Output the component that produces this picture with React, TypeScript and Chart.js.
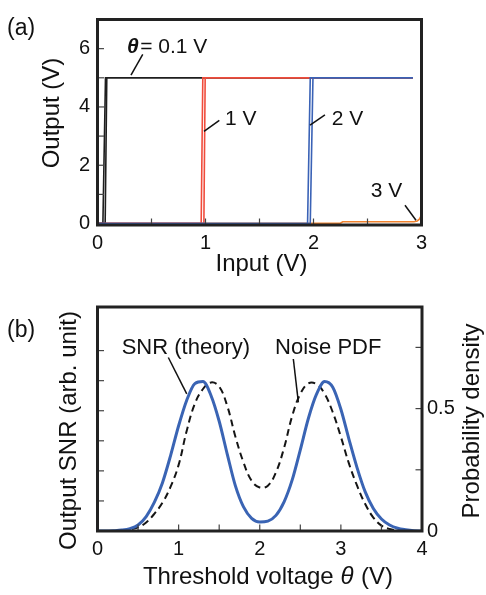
import React, { useEffect, useRef } from 'react';
import { Chart, registerables } from 'chart.js';

Chart.register(...registerables);

const FONT = '"Liberation Sans", Arial, Helvetica, sans-serif';

// ---------- Panel (a): comparator transfer curves ----------
const inputBlackA = [0, 0.05, 0.074, 2.92];
const inputBlackB = [0, 0.071, 0.086, 2.92];
const inputRedA = [0, 0.96, 0.975, 2.92];
const inputRedB = [0, 0.985, 0.997, 2.92];
const inputBlueA = [0, 1.945, 1.97, 2.92];
const inputBlueB = [0, 1.97, 1.995, 2.92];
const outputStep = [0, 0, 5, 5];
const inputOrange = [0, 2.25, 2.27, 2.93, 2.96, 2.98, 2.995];
const outputOrange = [0.01, 0.01, 0.06, 0.06, 0.09, 0.15, 0.25];

const xLabelsA = [0, 1, 2, 3];
const yLabelsA = [0, 2, 4, 6];
const xInnerTicksA = [0.5, 1, 1.5, 2, 2.5];
const yInnerTicksA = [1, 2, 3, 4, 5, 6];

// ---------- Panel (b): SNR and noise PDF vs threshold ----------
const thresholdV = [
  0, 0.1, 0.2, 0.3, 0.4, 0.5, 0.6, 0.7, 0.8, 0.9,
  1.0, 1.1, 1.2, 1.3, 1.4, 1.5, 1.6, 1.7, 1.8, 1.9,
  2.0, 2.1, 2.2, 2.3, 2.4, 2.5, 2.6, 2.7, 2.8, 2.9,
  3.0, 3.1, 3.2, 3.3, 3.4, 3.5, 3.6, 3.7, 3.8, 3.9, 4.0,
];
const snrTheory = [
  0, 0, 0.01, 0.03, 0.08, 0.2, 0.48, 0.95, 1.6, 2.5,
  3.5, 4.35, 4.9, 4.97, 4.5, 3.65, 2.55, 1.5, 0.8, 0.42,
  0.3, 0.33, 0.52, 0.97, 1.7, 2.7, 3.75, 4.55, 4.97, 4.78,
  4.05, 3.05, 2.1, 1.3, 0.75, 0.4, 0.2, 0.09, 0.04, 0.01, 0,
];
const noisePdf = [
  0, 0, 0, 0.002, 0.006, 0.015, 0.035, 0.07, 0.115, 0.18,
  0.27, 0.41, 0.52, 0.58, 0.607, 0.59, 0.51, 0.385, 0.28, 0.205,
  0.178, 0.185, 0.24, 0.34, 0.47, 0.56, 0.603, 0.6, 0.56, 0.485,
  0.385, 0.275, 0.185, 0.11, 0.055, 0.022, 0.008, 0.003, 0.001, 0, 0,
];

const xLabelsB = [0, 1, 2, 3, 4];
const yRightLabelsB = [0, 0.5];
const xInnerTicksB = [0.5, 1, 1.5, 2, 2.5, 3, 3.5];
const yLeftInnerTicksB = [1, 2, 3, 4, 5, 6];
const yRightInnerTicksB = [0.25, 0.5, 0.75];

const pts = (xs: number[], ys: number[]) => xs.map((x, i) => ({ x, y: ys[i] }));

type Part = { t: string; font: string; gap?: number };
type Note = { parts: Part[]; x: number; y: number; xAxis: string; yAxis: string };
type Leader = { x1: number; y1: number; x2: number; y2: number; xAxis: string; yAxis: string };
type Tick = { axis: string; values: number[]; side: 'bottom' | 'left' | 'right' };
type Title = { parts: Part[]; x: number; y: number; rot: number; align: 'center' | 'left' };

function drawParts(ctx: CanvasRenderingContext2D, parts: Part[], x: number, y: number, align: 'center' | 'left') {
  let total = 0;
  const widths = parts.map((p) => {
    ctx.font = p.font;
    const w = ctx.measureText(p.t).width + (p.gap || 0);
    total += w;
    return w;
  });
  let cx = align === 'center' ? x - total / 2 : x;
  ctx.textAlign = 'left';
  ctx.textBaseline = 'alphabetic';
  parts.forEach((p, i) => {
    ctx.font = p.font;
    ctx.fillText(p.t, cx, y);
    cx += widths[i];
  });
}

function framePlugin(ticks: Tick[], notes: Note[], leaders: Leader[], titles: Title[]) {
  return {
    id: 'frame',
    afterDatasetsDraw(chart: any) {
      const { ctx, chartArea: ca, scales } = chart;
      ctx.save();
      ctx.strokeStyle = '#444';
      ctx.lineWidth = 1.2;
      const len = 6.5;
      ticks.forEach((tk) => {
        const s = scales[tk.axis];
        tk.values.forEach((v) => {
          const p = s.getPixelForValue(v);
          ctx.beginPath();
          if (tk.side === 'bottom') {
            ctx.moveTo(p, ca.bottom);
            ctx.lineTo(p, ca.bottom - len);
          } else if (tk.side === 'left') {
            ctx.moveTo(ca.left, p);
            ctx.lineTo(ca.left + len, p);
          } else {
            ctx.moveTo(ca.right, p);
            ctx.lineTo(ca.right - len, p);
          }
          ctx.stroke();
        });
      });
      ctx.strokeStyle = '#222';
      ctx.lineWidth = 3;
      ctx.strokeRect(ca.left, ca.top, ca.right - ca.left, ca.bottom - ca.top);
      ctx.strokeStyle = '#111';
      ctx.lineWidth = 1.5;
      leaders.forEach((l) => {
        const sx = scales[l.xAxis];
        const sy = scales[l.yAxis];
        ctx.beginPath();
        ctx.moveTo(sx.getPixelForValue(l.x1), sy.getPixelForValue(l.y1));
        ctx.lineTo(sx.getPixelForValue(l.x2), sy.getPixelForValue(l.y2));
        ctx.stroke();
      });
      ctx.fillStyle = '#111';
      notes.forEach((n) => {
        const x = scales[n.xAxis].getPixelForValue(n.x);
        const y = scales[n.yAxis].getPixelForValue(n.y);
        drawParts(ctx, n.parts, x, y, 'left');
      });
      titles.forEach((t) => {
        ctx.save();
        ctx.translate(t.x, t.y);
        ctx.rotate(t.rot);
        drawParts(ctx, t.parts, 0, 0, t.align);
        ctx.restore();
      });
      ctx.restore();
    },
  };
}

const tickFont = { family: FONT, size: 20 };
const titleFont = `24px ${FONT}`;

function setTicks(values: number[]) {
  return (s: any) => {
    s.ticks = values.map((v) => ({ value: v }));
  };
}

function makeConfigA(): any {
  const line = (data: any, color: string, order: number) => ({
    data,
    borderColor: color,
    backgroundColor: color,
    borderWidth: 1.6,
    pointRadius: 0,
    showLine: true,
    tension: 0,
    order,
  });
  const annFont = `21px ${FONT}`;
  const notes: Note[] = [
    { parts: [{ t: 'θ', font: `italic bold 21px ${FONT}`, gap: 1.5 }, { t: '= 0.1 V', font: annFont }], x: 0.273, y: 5.86, xAxis: 'x', yAxis: 'y' },
    { parts: [{ t: '1 V', font: annFont }], x: 1.18, y: 3.39, xAxis: 'x', yAxis: 'y' },
    { parts: [{ t: '2 V', font: annFont }], x: 2.168, y: 3.39, xAxis: 'x', yAxis: 'y' },
    { parts: [{ t: '3 V', font: annFont }], x: 2.53, y: 0.915, xAxis: 'x', yAxis: 'y' },
  ];
  const leaders: Leader[] = [
    { x1: 0.419, y1: 5.8, x2: 0.31, y2: 5.09, xAxis: 'x', yAxis: 'y' },
    { x1: 1.128, y1: 3.54, x2: 0.986, y2: 3.16, xAxis: 'x', yAxis: 'y' },
    { x1: 2.106, y1: 3.73, x2: 1.968, y2: 3.38, xAxis: 'x', yAxis: 'y' },
    { x1: 2.847, y1: 0.626, x2: 2.949, y2: 0.112, xAxis: 'x', yAxis: 'y' },
  ];
  const titles: Title[] = [
    { parts: [{ t: '(a)', font: `23px ${FONT}` }], x: 7, y: 35, rot: 0, align: 'left' },
    { parts: [{ t: 'Input (V)', font: titleFont }], x: 261.5, y: 271, rot: 0, align: 'center' },
    { parts: [{ t: 'Output (V)', font: titleFont }], x: 59, y: 113, rot: -Math.PI / 2, align: 'center' },
  ];
  const ticks: Tick[] = [
    { axis: 'x', values: xInnerTicksA, side: 'bottom' },
    { axis: 'y', values: yInnerTicksA, side: 'left' },
  ];
  return {
    type: 'scatter',
    data: {
      datasets: [
        line(pts(inputOrange, outputOrange), '#f0822e', 5),
        line(pts(inputBlackA, outputStep), '#1e1e1e', 4),
        line(pts(inputBlackB, outputStep), '#1e1e1e', 4),
        line(pts(inputRedA, outputStep), '#f04c3c', 3),
        line(pts(inputRedB, outputStep), '#f04c3c', 3),
        line(pts(inputBlueA, outputStep), '#3a62b6', 1),
        line(pts(inputBlueB, outputStep), '#3a62b6', 1),
      ],
    },
    options: {
      responsive: false,
      animation: false,
      events: [],
      layout: { padding: { top: 5.5, right: 64.5, left: 0, bottom: 0 } },
      plugins: { legend: { display: false }, tooltip: { enabled: false } },
      scales: {
        x: {
          type: 'linear',
          min: 0,
          max: 3,
          grid: { display: false, drawTicks: false },
          border: { display: false },
          ticks: { font: tickFont, color: '#111', padding: 6, maxRotation: 0, callback: (v: any) => String(v) },
          afterBuildTicks: setTicks(xLabelsA),
          afterFit: (s: any) => { s.height = 65; },
        },
        y: {
          type: 'linear',
          min: -0.05,
          max: 7,
          grid: { display: false, drawTicks: false },
          border: { display: false },
          ticks: { font: tickFont, color: '#111', padding: 7.5, callback: (v: any) => String(v) },
          afterBuildTicks: setTicks(yLabelsA),
          afterFit: (s: any) => { s.width = 97.5; },
        },
      },
    },
    plugins: [framePlugin(ticks, notes, leaders, titles)],
  };
}

function makeConfigB(): any {
  const annFont = `22px ${FONT}`;
  const notes: Note[] = [
    { parts: [{ t: 'SNR (theory)', font: annFont }], x: 0.298, y: 5.88, xAxis: 'x', yAxis: 'y' },
    { parts: [{ t: 'Noise PDF', font: annFont }], x: 2.189, y: 5.88, xAxis: 'x', yAxis: 'y' },
  ];
  const leaders: Leader[] = [
    { x1: 0.873, y1: 5.77, x2: 1.1, y2: 4.56, xAxis: 'x', yAxis: 'y' },
    { x1: 2.414, y1: 5.72, x2: 2.476, y2: 4.28, xAxis: 'x', yAxis: 'y' },
  ];
  const titles: Title[] = [
    { parts: [{ t: '(b)', font: `23px ${FONT}` }], x: 7, y: 47, rot: 0, align: 'left' },
    {
      parts: [
        { t: 'Threshold voltage ', font: titleFont },
        { t: 'θ', font: `italic 24px ${FONT}`, gap: 1 },
        { t: ' (V)', font: titleFont },
      ],
      x: 268, y: 293.5, rot: 0, align: 'center',
    },
    { parts: [{ t: 'Output SNR (arb. unit)', font: titleFont }], x: 75.5, y: 140.5, rot: -Math.PI / 2, align: 'center' },
    { parts: [{ t: 'Probability density', font: titleFont }], x: 479, y: 131, rot: -Math.PI / 2, align: 'center' },
  ];
  const ticks: Tick[] = [
    { axis: 'x', values: xInnerTicksB, side: 'bottom' },
    { axis: 'y', values: yLeftInnerTicksB, side: 'left' },
    { axis: 'y2', values: yRightInnerTicksB, side: 'right' },
  ];
  return {
    type: 'scatter',
    data: {
      datasets: [
        {
          data: pts(thresholdV, snrTheory),
          yAxisID: 'y',
          borderColor: '#3a64b4',
          backgroundColor: '#3a64b4',
          borderWidth: 3,
          pointRadius: 0,
          showLine: true,
          cubicInterpolationMode: 'monotone',
          order: 1,
        },
        {
          data: pts(thresholdV, noisePdf),
          yAxisID: 'y2',
          borderColor: '#151515',
          backgroundColor: '#151515',
          borderWidth: 2,
          borderDash: [7, 4.5],
          pointRadius: 0,
          showLine: true,
          tension: 0.4,
          order: 2,
        },
      ],
    },
    options: {
      responsive: false,
      animation: false,
      events: [],
      layout: { padding: { top: 16, right: 0, left: 0, bottom: 0 } },
      plugins: { legend: { display: false }, tooltip: { enabled: false } },
      scales: {
        x: {
          type: 'linear',
          min: 0,
          max: 4,
          grid: { display: false, drawTicks: false },
          border: { display: false },
          ticks: { font: tickFont, color: '#111', padding: 6, maxRotation: 0, callback: (v: any) => String(v) },
          afterBuildTicks: setTicks(xLabelsB),
          afterFit: (s: any) => { s.height = 64; },
        },
        y: {
          type: 'linear',
          position: 'left',
          min: 0,
          max: 7.45,
          grid: { display: false, drawTicks: false },
          border: { display: false },
          ticks: { display: false },
          afterFit: (s: any) => { s.width = 97.5; },
        },
        y2: {
          type: 'linear',
          position: 'right',
          min: 0,
          max: 0.915,
          grid: { display: false, drawTicks: false },
          border: { display: false },
          ticks: { font: tickFont, color: '#111', padding: 5, callback: (v: any) => String(v) },
          afterBuildTicks: setTicks(yRightLabelsB),
          afterFit: (s: any) => { s.width = 64; },
        },
      },
    },
    plugins: [framePlugin(ticks, notes, leaders, titles)],
  };
}

export default function App() {
  const refA = useRef<HTMLCanvasElement>(null);
  const refB = useRef<HTMLCanvasElement>(null);
  useEffect(() => {
    const a = new Chart(refA.current as HTMLCanvasElement, makeConfigA());
    const b = new Chart(refB.current as HTMLCanvasElement, makeConfigB());
    return () => {
      a.destroy();
      b.destroy();
    };
  }, []);
  return (
    <div style={{ position: 'absolute', left: 0, top: 0, width: 486, height: 595, background: '#fff' }}>
      <canvas ref={refA} width={486} height={290} style={{ position: 'absolute', left: 0, top: 0, width: 486, height: 290 }} />
      <canvas ref={refB} width={486} height={305} style={{ position: 'absolute', left: 0, top: 290, width: 486, height: 305 }} />
    </div>
  );
}
